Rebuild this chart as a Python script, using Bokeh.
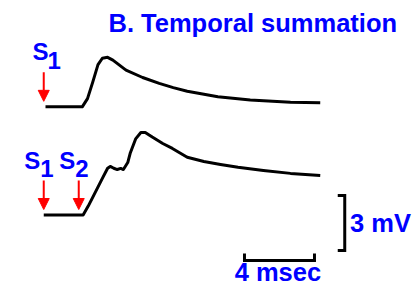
from bokeh.plotting import figure
from bokeh.models import Arrow, NormalHead, Label
from bokeh.embed import file_html
from bokeh.resources import INLINE

# ---- data (time in ms, voltage in mV) ----
t_single = [0, 2.1, 2.4, 2.7, 3.0, 3.25, 3.55, 3.85, 4.6, 5.55, 6.5, 7.3, 8.1, 9.85, 11.7, 14.0, 15.7]
v_single = [0, 0, 0.45, 1.35, 2.3, 2.65, 2.7, 2.55, 2.0, 1.6, 1.28, 1.05, 0.85, 0.55, 0.37, 0.25, 0.22]

t_pair = [-0.1, 2.15, 2.45, 2.85, 3.25, 3.55, 3.7, 3.9, 4.1, 4.3, 4.45, 4.7, 4.85, 5.15, 5.45,
          5.7, 6.1, 6.7, 7.25, 8.1, 9.05, 10.0, 11.0, 12.45, 14.0, 15.7]
v_pair = [0, 0, 0.5, 1.25, 2.0, 2.55, 2.65, 2.55, 2.48, 2.54, 2.48, 2.86, 3.4, 4.15, 4.5,
          4.5, 4.25, 3.9, 3.63, 3.15, 2.92, 2.76, 2.6, 2.43, 2.27, 2.15]

stim_single = [-0.1]
stim_pair = [-0.1, 1.9]
stim_labels_single = ["1"]
stim_labels_pair = ["1", "2"]

scale_mv = 3
scale_ms = 4
title = "B. Temporal summation"

# ---- layout constants ----
offset_top = 5.9          # vertical offset of the single-EPSP trace
BLUE = "#0000ff"
RED = "#ff0000"
FONT = "Liberation Sans"

p = figure(width=414, height=286, x_range=(-2.571, 21.086), y_range=(-3.90, 11.70),
           output_backend="svg", toolbar_location=None, min_border=0,
           x_axis_location=None, y_axis_location=None, outline_line_color=None)
p.xgrid.visible = False
p.ygrid.visible = False
p.background_fill_color = "white"
p.border_fill_color = "white"

# traces
p.line(t_single, [v + offset_top for v in v_single], line_color="black", line_width=3, line_join="round")
p.line(t_pair, v_pair, line_color="black", line_width=3, line_join="round")

# stimulus arrows
def add_arrow(t, base):
    p.add_layout(Arrow(x_start=t, y_start=base + 1.88, x_end=t, y_end=base + 0.3,
                       line_color=RED, line_width=2,
                       end=NormalHead(size=11, fill_color=RED, line_color=RED, line_width=1)))

def add_stim_label(t, base, digit, s_dx, d_dx):
    p.add_layout(Label(x=t + s_dx, y=base + 3.0, text="S", text_color=BLUE, text_font=FONT,
                       text_font_style="bold", text_font_size="24px", text_baseline="middle"))
    p.add_layout(Label(x=t + d_dx, y=base + 2.51, text=digit, text_color=BLUE, text_font=FONT,
                       text_font_style="bold", text_font_size="24px", text_baseline="middle"))

for t in stim_single:
    add_arrow(t, offset_top)
for t, d in zip(stim_single, stim_labels_single):
    add_stim_label(t, offset_top, d, -0.64, 0.22)
for t in stim_pair:
    add_arrow(t, 0)
for t, d in zip(stim_pair, stim_labels_pair):
    add_stim_label(t, 0, d, -1.12, -0.2)

# scale bars
bar_x = 17.1
bar_top = 1.06
p.line([bar_x - 0.4, bar_x, bar_x, bar_x - 0.4],
       [bar_top, bar_top, bar_top - scale_mv, bar_top - scale_mv],
       line_color="black", line_width=3, line_join="miter")
hb_x0 = 11.37
hb_y = -2.48
p.line([hb_x0, hb_x0, hb_x0 + scale_ms, hb_x0 + scale_ms],
       [hb_y + 0.38, hb_y, hb_y, hb_y + 0.38],
       line_color="black", line_width=3, line_join="miter")

p.add_layout(Label(x=bar_x + 0.3, y=bar_top - scale_mv / 2 - 0.01, text=f"{scale_mv} mV",
                   text_color=BLUE, text_font=FONT, text_font_style="bold",
                   text_font_size="25.5px", text_baseline="middle"))
p.add_layout(Label(x=hb_x0 + scale_ms / 2 - 0.09, y=-3.12, text=f"{scale_ms} msec",
                   text_color=BLUE, text_font=FONT, text_font_style="bold",
                   text_font_size="25.5px", text_baseline="middle", text_align="center"))

p.add_layout(Label(x=3.6, y=10.46, text=title, text_color=BLUE, text_font=FONT,
                   text_font_style="bold", text_font_size="25.5px", text_baseline="middle"))

open("out.html", "w").write(file_html(p, INLINE))
